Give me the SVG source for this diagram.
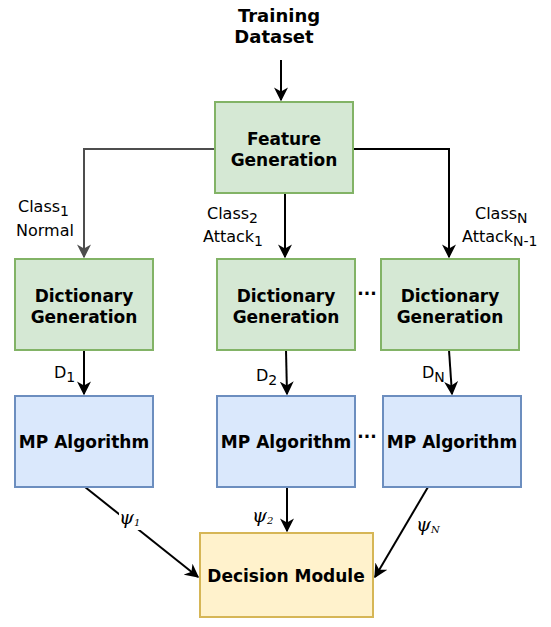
<svg xmlns="http://www.w3.org/2000/svg" width="551" height="627" viewBox="0 0 551 627">
<style>
.g{fill:#d5e8d4;stroke:#82b366;stroke-width:2}
.b{fill:#dae8fc;stroke:#6c8ebf;stroke-width:2}
.y{fill:#fff2cc;stroke:#d6b656;stroke-width:2}
.t{font-family:"DejaVu Sans",Verdana,sans-serif;font-weight:bold;font-size:17px;fill:#000;text-anchor:middle}
.l{font-family:"DejaVu Sans",Verdana,sans-serif;font-size:16px;fill:#000}
.p{font-family:"DejaVu Serif","Liberation Serif",serif;font-style:italic;font-size:19px;fill:#000}
.c{fill:none;stroke:#000;stroke-width:2}
</style>
<defs>
<marker id="a" viewBox="0 0 10 10" refX="9" refY="5" markerWidth="7" markerHeight="7" orient="auto" markerUnits="strokeWidth">
<path d="M0,0 L10,5 L0,10 L3,5 z" fill="#000"/>
</marker>
<marker id="ag" viewBox="0 0 10 10" refX="9" refY="5" markerWidth="7" markerHeight="7" orient="auto" markerUnits="strokeWidth">
<path d="M0,0 L10,5 L0,10 L3,5 z" fill="#4d4d4d"/>
</marker>
</defs>
<g id="connectors">
<path class="c" d="M281,60 L281,100" marker-end="url(#a)"/>
<path class="c" d="M215,149 L84,149 L84,257" style="stroke:#4d4d4d" marker-end="url(#ag)"/>
<path class="c" d="M285,193 L285,257" marker-end="url(#a)"/>
<path class="c" d="M353,149 L449,149 L449,257" marker-end="url(#a)"/>
<path class="c" d="M84,350 L84,394" marker-end="url(#a)"/>
<path class="c" d="M286,350 L287,394" marker-end="url(#a)"/>
<path class="c" d="M449,350 L452,394" marker-end="url(#a)"/>
<path class="c" d="M85,487 L198,577" marker-end="url(#a)"/>
<path class="c" d="M287,487 L287,531" marker-end="url(#a)"/>
<path class="c" d="M428,487 L375,577" marker-end="url(#a)"/>
</g>
<g id="training">
<text class="t" x="279" y="22" style="font-size:18px">Training</text>
<text class="t" x="274" y="43" style="font-size:18px">Dataset</text>
</g>
<g id="feature">
<rect class="g" x="215" y="102" width="138" height="91"/>
<text class="t" x="284" y="145">Feature</text>
<text class="t" x="284" y="166">Generation</text>
</g>
<g id="dict1">
<rect class="g" x="15" y="259" width="138" height="91"/>
<text class="t" x="84" y="302">Dictionary</text>
<text class="t" x="84" y="323">Generation</text>
</g>
<g id="dict2">
<rect class="g" x="217" y="259" width="138" height="91"/>
<text class="t" x="286" y="302">Dictionary</text>
<text class="t" x="286" y="323">Generation</text>
</g>
<g id="dictN">
<rect class="g" x="381" y="259" width="138" height="91"/>
<text class="t" x="450" y="302">Dictionary</text>
<text class="t" x="450" y="323">Generation</text>
</g>
<g id="mp1">
<rect class="b" x="15" y="396" width="138" height="91"/>
<text class="t" x="84" y="448">MP Algorithm</text>
</g>
<g id="mp2">
<rect class="b" x="217" y="396" width="138" height="91"/>
<text class="t" x="286" y="448">MP Algorithm</text>
</g>
<g id="mpN">
<rect class="b" x="383" y="396" width="138" height="91"/>
<text class="t" x="452" y="448">MP Algorithm</text>
</g>
<g id="decision">
<rect class="y" x="200" y="533" width="173" height="84"/>
<text class="t" x="286" y="582">Decision Module</text>
</g>
<g id="labels">
<text class="l" x="18" y="212">Class<tspan font-size="14" dy="4">1</tspan></text>
<text class="l" x="16" y="236">Normal</text>
<text class="l" x="207" y="219">Class<tspan font-size="14" dy="4">2</tspan></text>
<text class="l" x="203" y="242">Attack<tspan font-size="14" dy="4">1</tspan></text>
<text class="l" x="475" y="219">Class<tspan font-size="14" dy="4">N</tspan></text>
<text class="l" x="462" y="242">Attack<tspan font-size="14" dy="4">N-1</tspan></text>
<text class="l" x="54" y="378">D<tspan font-size="14" dy="4">1</tspan></text>
<text class="l" x="256" y="381">D<tspan font-size="14" dy="4">2</tspan></text>
<text class="l" x="422" y="378">D<tspan font-size="14" dy="4">N</tspan></text>
<rect x="119" y="506" width="25" height="24" fill="#fff"/>
<text class="p" x="119" y="524">ψ<tspan font-size="10" dy="2">1</tspan></text>
<text class="p" x="252" y="522">ψ<tspan font-size="10" dy="2">2</tspan></text>
<rect x="416" y="513" width="28" height="24" fill="#fff"/>
<text class="p" x="416" y="531">ψ<tspan font-size="10" dy="2">N</tspan></text>
<text class="t" x="367" y="295">...</text>
<text class="t" x="367" y="438">...</text>
</g>
</svg>
